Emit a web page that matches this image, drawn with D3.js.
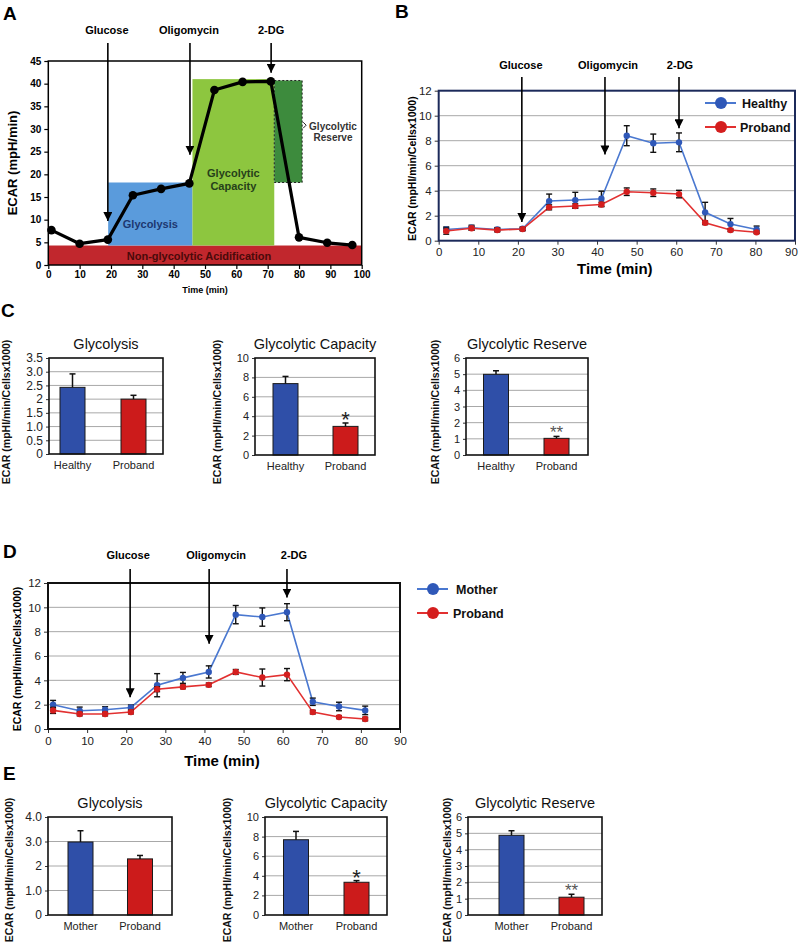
<!DOCTYPE html>
<html><head><meta charset="utf-8">
<script src="https://cdn.jsdelivr.net/npm/d3@7"></script>
<style>body{margin:0;background:#fff}</style>
</head><body><svg id="fig" width="800" height="951" xmlns="http://www.w3.org/2000/svg"></svg>
<script>
// ================= DATA =================
// Panel A (schematic)
const aTime = [1, 10, 19, 27, 36, 45, 53, 62, 71, 80, 89, 97];
const aEcar = [7.7, 4.7, 5.6, 15.4, 16.8, 18.0, 38.6, 40.4, 40.5, 6.1, 4.9, 4.4];
const aXTicks = [0, 10, 20, 30, 40, 50, 60, 70, 80, 90, 100];
const aYTicks = [0, 5, 10, 15, 20, 25, 30, 35, 40, 45];
const aRegionNames = ["Non-glycolytic Acidification", "Glycolysis", "Glycolytic Capacity", "Glycolytic Reserve"];
const aRegionX0 = [0, 19.1, 46, 72.1];
const aRegionX1 = [100, 46, 72.1, 81];
const aRegionY0 = [0, 4.3, 4.3, 18.2];
const aRegionY1 = [4.3, 18.2, 41, 40.7];
const drugNames = ["Glucose", "Oligomycin", "2-DG"];
const aDrugTimes = [19, 45.2, 71.1];
const aDrugTips = [9.7, 24.3, 42.4];

// Panel B
const bTime = [1.9, 8.3, 14.8, 21.2, 27.9, 34.5, 41.1, 47.5, 54.2, 60.7, 67.3, 73.7, 80.3];
const bHealthy = [0.9, 1.04, 0.9, 0.96, 3.17, 3.25, 3.36, 8.4, 7.8, 7.87, 2.27, 1.33, 0.9];
const bHealthyErr = [0.2, 0.2, 0.15, 0.15, 0.56, 0.62, 0.6, 0.8, 0.73, 0.75, 0.8, 0.45, 0.27];
const bProband = [0.77, 1.0, 0.85, 0.93, 2.67, 2.77, 2.9, 3.92, 3.84, 3.73, 1.44, 0.85, 0.67];
const bProbandErr = [0.25, 0.15, 0.15, 0.12, 0.2, 0.18, 0.18, 0.3, 0.3, 0.3, 0.15, 0.12, 0.1];
const bDrugTimes = [21.0, 42.0, 60.7];
const bDrugTips = [1.5, 6.9, 9.0];

// Panel D
const dTime = [1.3, 8.1, 14.6, 21.2, 27.9, 34.5, 41.1, 48.0, 54.8, 61.1, 67.7, 74.4, 81.1];
const dMother = [2.0, 1.5, 1.58, 1.77, 3.6, 4.2, 4.69, 9.4, 9.2, 9.6, 2.24, 1.85, 1.53];
const dMotherErr = [0.35, 0.3, 0.25, 0.2, 0.95, 0.45, 0.5, 0.75, 0.75, 0.7, 0.3, 0.35, 0.35];
const dProband = [1.53, 1.23, 1.23, 1.39, 3.27, 3.46, 3.63, 4.69, 4.23, 4.47, 1.39, 0.98, 0.82];
const dProbandErr = [0.25, 0.15, 0.15, 0.15, 0.2, 0.15, 0.15, 0.2, 0.7, 0.5, 0.15, 0.12, 0.15];
const dDrugTimes = [21.0, 41.2, 61.1];
const dDrugTips = [2.6, 7.0, 10.8];

const lineXTicks = [0, 10, 20, 30, 40, 50, 60, 70, 80, 90];
const lineYTicks = [0, 2, 4, 6, 8, 10, 12];

// Panels C and E (bar summaries)
const cCats = ["Healthy", "Proband"];
const eCats = ["Mother", "Proband"];
const barTitles = ["Glycolysis", "Glycolytic Capacity", "Glycolytic Reserve"];
const cGlycolysis = [2.43, 2.0],  cGlycolysisErr = [0.49, 0.14];
const cCapacity   = [7.36, 2.95], cCapacityErr   = [0.74, 0.35];
const cReserve    = [4.99, 1.03], cReserveErr    = [0.22, 0.12];
const eGlycolysis = [2.98, 2.29], eGlycolysisErr = [0.46, 0.14];
const eCapacity   = [7.68, 3.34], eCapacityErr   = [0.85, 0.17];
const eReserve    = [4.88, 1.09], eReserveErr    = [0.28, 0.18];
const sigMarks = ["", "*", "**"];
const cGlyTicks = [0, 0.5, 1, 1.5, 2, 2.5, 3, 3.5];
const cGlyTickLabels = ["0", "0.5", "1.0", "1.5", "2", "2.5", "3.0", "3.5"];
const eGlyTicks = [0, 1, 2, 3, 4];
const eGlyTickLabels = ["0", "1.0", "2", "3.0", "4.0"];
const capTicks = [0, 2, 4, 6, 8, 10];
const resTicks = [0, 1, 2, 3, 4, 5, 6];

// ================= DRAWING =================
const FONT = "'Liberation Sans', Arial, Helvetica, sans-serif";
const svg = d3.select("#fig").attr("font-family", FONT);

const defs = svg.append("defs");
defs.append("marker").attr("id", "arrowhead")
  .attr("viewBox", "0 0 10 10").attr("refX", 10).attr("refY", 5)
  .attr("markerWidth", 9).attr("markerHeight", 9).attr("markerUnits", "userSpaceOnUse")
  .attr("orient", "auto")
  .append("path").attr("d", "M0,0 L10,5 L0,10 Z").attr("fill", "#000");

function panelLetter(t, x, y) {
  svg.append("text").attr("x", x).attr("y", y).text(t)
    .attr("font-size", 19).attr("font-weight", "bold").attr("fill", "#000");
}

function drugArrows(g, x, y, times, tips, topY, textY, dx) {
  times.forEach((t, i) => {
    g.append("line").attr("x1", x(t)).attr("x2", x(t)).attr("y1", topY).attr("y2", y(tips[i]))
      .attr("stroke", "#000").attr("stroke-width", 1.6).attr("marker-end", "url(#arrowhead)");
    g.append("text").attr("x", x(t) + (dx ? dx[i] : 0)).attr("y", textY).attr("text-anchor", "middle")
      .attr("font-size", 11).attr("font-weight", "bold").text(drugNames[i]);
  });
}

// ---------- Panel A ----------
(function () {
  const L = 48.3, R = 361.7, T = 61, B = 265;
  const x = d3.scaleLinear([0, 100], [L, R]);
  const y = d3.scaleLinear([0, 45], [B, T]);
  const g = svg.append("g");
  const fills = ["#c1272d", "#5a9bdc", "#8dc63f", "#3d8b3d"];
  aRegionNames.forEach((n, i) => {
    g.append("rect").attr("x", x(aRegionX0[i])).attr("y", y(aRegionY1[i]))
      .attr("width", x(aRegionX1[i]) - x(aRegionX0[i])).attr("height", y(aRegionY0[i]) - y(aRegionY1[i]))
      .attr("fill", fills[i])
      .attr("stroke", i === 3 ? "#222" : "none").attr("stroke-dasharray", i === 3 ? "2,2" : null)
      .attr("stroke-width", 1);
  });
  const lab = (txt, xv, yv, col, fs) => g.append("text").attr("x", xv).attr("y", yv)
    .attr("text-anchor", "middle").attr("font-size", fs).attr("font-weight", "bold").attr("fill", col).text(txt);
  lab("Non-glycolytic Acidification", (x(0) + x(100)) / 2 - 6, y(1.0), "#4a0a0a", 11);
  lab("Glycolysis", (x(aRegionX0[1]) + x(aRegionX1[1])) / 2, y(8.1), "#1d3770", 11);
  lab("Glycolytic", (x(aRegionX0[2]) + x(aRegionX1[2])) / 2, y(19.5), "#26401a", 11);
  lab("Capacity", (x(aRegionX0[2]) + x(aRegionX1[2])) / 2, y(16.5), "#26401a", 11);
  lab("Glycolytic", 333, 130, "#333", 10);
  lab("Reserve", 333, 141, "#333", 10);
  g.append("path").attr("d", `M${x(81) + 1},${y(31.5)} l3,3 l-3,3`).attr("fill", "none").attr("stroke", "#222").attr("stroke-width", 1);

  g.append("rect").attr("x", L).attr("y", T).attr("width", R - L).attr("height", B - T)
    .attr("fill", "none").attr("stroke", "#000").attr("stroke-width", 1.5);

  const pts = aTime.map((t, i) => [t, aEcar[i]]);
  g.append("path").datum(pts).attr("d", d3.line().x(d => x(d[0])).y(d => y(d[1])))
    .attr("fill", "none").attr("stroke", "#000").attr("stroke-width", 3.2).attr("stroke-linejoin", "round");
  g.selectAll("circle.a").data(pts).join("circle").attr("cx", d => x(d[0])).attr("cy", d => y(d[1]))
    .attr("r", 4.3).attr("fill", "#000");

  const ax = g.append("g").attr("transform", `translate(0,${B})`)
    .call(d3.axisBottom(x).tickValues(aXTicks).tickSize(4).tickSizeOuter(0));
  const ay = g.append("g").attr("transform", `translate(${L},0)`)
    .call(d3.axisLeft(y).tickValues(aYTicks).tickSize(4).tickSizeOuter(0));
  [ax, ay].forEach(a => {
    a.select(".domain").remove();
    a.selectAll("text").attr("font-size", 10).attr("font-weight", "bold").attr("font-family", FONT).attr("fill", "#000");
    a.selectAll("line").attr("stroke", "#000").attr("stroke-width", 1.2);
  });
  ax.selectAll("text").attr("dy", "0.6em");
  g.append("text").attr("x", (L + R) / 2).attr("y", 293).attr("text-anchor", "middle")
    .attr("font-size", 9).attr("font-weight", "bold").text("Time (min)");
  g.append("text").attr("transform", `translate(17,${(T + B) / 2}) rotate(-90)`).attr("text-anchor", "middle")
    .attr("font-size", 13).attr("font-weight", "bold").text("ECAR (mpH/min)");

  drugArrows(g, x, y, aDrugTimes, aDrugTips, 43, 34, [-1, -1, 0]);
  panelLetter("A", 3, 20);
})();

// ---------- line chart (B, D) ----------
function lineChart(o) {
  const x = d3.scaleLinear([0, 90], [o.L, o.R]);
  const y = d3.scaleLinear([0, 12], [o.B, o.T]);
  const g = svg.append("g");
  g.selectAll("line.grid").data(lineYTicks.filter(v => v > 0 && v < 12)).join("line")
    .attr("x1", o.L).attr("x2", o.R).attr("y1", d => y(d)).attr("y2", d => y(d))
    .attr("stroke", "#a8a8a8").attr("stroke-width", 1);
  const ax = g.append("g").attr("transform", `translate(0,${o.B})`)
    .call(d3.axisBottom(x).tickValues(lineXTicks).tickSize(4).tickSizeOuter(0));
  const ay = g.append("g").attr("transform", `translate(${o.L},0)`)
    .call(d3.axisLeft(y).tickValues(lineYTicks).tickSize(4).tickSizeOuter(0));
  [ax, ay].forEach(a => {
    a.select(".domain").remove();
    a.selectAll("text").attr("font-size", 11.5).attr("font-family", FONT).attr("fill", "#222");
    a.selectAll("line").attr("stroke", "#333");
  });
  ax.selectAll("text").attr("dy", "0.75em");
  if (o.lastTickDx) ax.selectAll(".tick").filter(d => d === 90).select("text").attr("dx", o.lastTickDx);
  o.series.forEach(s => {
    const pts = o.time.map((t, i) => ({ t, v: s.vals[i], e: s.err[i] }));
    g.append("path").datum(pts).attr("d", d3.line().x(d => x(d.t)).y(d => y(d.v)))
      .attr("fill", "none").attr("stroke", s.line).attr("stroke-width", 1.6);
    const eb = g.append("g");
    pts.forEach(d => {
      const x0 = x(d.t), y1 = y(d.v + d.e), y2 = y(Math.max(0, d.v - d.e));
      eb.append("line").attr("x1", x0).attr("x2", x0).attr("y1", y1).attr("y2", y2).attr("stroke", "#111").attr("stroke-width", 1.4);
      [y1, y2].forEach(yy => eb.append("line").attr("x1", x0 - 3).attr("x2", x0 + 3).attr("y1", yy).attr("y2", yy).attr("stroke", "#111").attr("stroke-width", 1.4));
    });
    g.selectAll(null).data(pts).join("circle").attr("cx", d => x(d.t)).attr("cy", d => y(d.v))
      .attr("r", 3.2).attr("fill", s.marker);
  });
  g.append("rect").attr("x", o.L).attr("y", o.T).attr("width", o.R - o.L).attr("height", o.B - o.T)
    .attr("fill", "none").attr("stroke", o.frame).attr("stroke-width", 2);
  g.append("text").attr("x", x(45) - 2).attr("y", o.titleY).attr("text-anchor", "middle")
    .attr("font-size", 15).attr("font-weight", "bold").text("Time (min)");
  g.append("text").attr("transform", `translate(${o.yLabX},${(o.T + o.B) / 2 + 3}) rotate(-90)`).attr("text-anchor", "middle")
    .attr("font-size", 10.5).attr("font-weight", "bold").text("ECAR (mpHI/min/Cellsx1000)");
  drugArrows(g, x, y, o.drugTimes, o.drugTips, o.arrowTop, o.textY, o.textDx);
  o.series.forEach((s, i) => {
    const ly = o.legY[i];
    g.append("line").attr("x1", o.legX0).attr("x2", o.legX0 + 31).attr("y1", ly).attr("y2", ly)
      .attr("stroke", s.line).attr("stroke-width", 2);
    g.append("circle").attr("cx", o.legX0 + 16).attr("cy", ly).attr("r", 6).attr("fill", s.marker);
    g.append("text").attr("x", o.legTextX[i]).attr("y", ly).attr("dy", "0.36em")
      .attr("font-size", 12.5).attr("font-weight", "bold").attr("fill", "#111").text(s.name);
  });
}

lineChart({
  L: 438.7, R: 795, T: 90.7, B: 240.7, frame: "#1c2a5a", yLabX: 416, titleY: 274, lastTickDx: -4,
  time: bTime,
  series: [
    { name: "Healthy", vals: bHealthy, err: bHealthyErr, line: "#4a78d0", marker: "#2f58b8" },
    { name: "Proband", vals: bProband, err: bProbandErr, line: "#e23030", marker: "#d41e1e" }
  ],
  drugTimes: bDrugTimes, drugTips: bDrugTips, arrowTop: 77, textY: 69, textDx: [-1, 3, 1],
  legX0: 705, legY: [103, 127], legTextX: [742, 740]
});
panelLetter("B", 395, 18);

lineChart({
  L: 48, R: 400, T: 583, B: 729, frame: "#111", yLabX: 21, titleY: 766,
  time: dTime,
  series: [
    { name: "Mother", vals: dMother, err: dMotherErr, line: "#4a78d0", marker: "#2f58b8" },
    { name: "Proband", vals: dProband, err: dProbandErr, line: "#e23030", marker: "#d41e1e" }
  ],
  drugTimes: dDrugTimes, drugTips: dDrugTips, arrowTop: 569, textY: 559, textDx: [-2, 7, 7],
  legX0: 417, legY: [589, 613], legTextX: [456, 453]
});
panelLetter("D", 3, 558);

// ---------- bar charts (C, E) ----------
function barChart(o) {
  const x = d3.scalePoint().domain(o.cats).range([o.L + o.padL, o.R - o.padR]);
  const y = d3.scaleLinear([0, o.max], [o.B, o.T]);
  const g = svg.append("g");
  g.selectAll(null).data(o.ticks.filter(v => v > 0 && v < o.max)).join("line")
    .attr("x1", o.L).attr("x2", o.R).attr("y1", d => y(d)).attr("y2", d => y(d))
    .attr("stroke", "#a8a8a8").attr("stroke-width", 1);
  const ay = g.append("g").attr("transform", `translate(${o.L},0)`)
    .call(d3.axisLeft(y).tickValues(o.ticks).tickSize(3).tickSizeOuter(0)
      .tickFormat((d, i) => o.tickLabels ? o.tickLabels[i] : d));
  ay.select(".domain").remove();
  ay.selectAll("text").attr("font-size", o.tickFs || 11).attr("font-family", FONT).attr("fill", "#222");
  ay.selectAll("line").attr("stroke", "#333");
  const colors = ["#2f4fa8", "#cc1b1b"];
  const bw = 25;
  o.cats.forEach((c, i) => {
    const cx = x(c);
    g.append("rect").attr("x", cx - bw / 2).attr("y", y(o.vals[i])).attr("width", bw)
      .attr("height", o.B - y(o.vals[i])).attr("fill", colors[i]).attr("stroke", "#1a1a1a").attr("stroke-width", 1);
    const yt = y(o.vals[i] + o.err[i]);
    g.append("line").attr("x1", cx).attr("x2", cx).attr("y1", y(o.vals[i])).attr("y2", yt).attr("stroke", "#111").attr("stroke-width", 1.5);
    g.append("line").attr("x1", cx - 3).attr("x2", cx + 3).attr("y1", yt).attr("y2", yt).attr("stroke", "#111").attr("stroke-width", 1.5);
    g.append("text").attr("x", cx).attr("y", o.B + 15).attr("text-anchor", "middle")
      .attr("font-size", 11).attr("fill", "#222").text(c);
    if (i === 1 && o.sig) {
      const two = o.sig.length > 1;
      g.append("text").attr("x", cx).attr("y", yt + (two ? 2 : 4)).attr("text-anchor", "middle")
        .attr("font-size", two ? 17 : 22).attr("fill", two ? "#555" : "#222").text(o.sig);
    }
  });
  g.append("rect").attr("x", o.L).attr("y", o.T).attr("width", o.R - o.L).attr("height", o.B - o.T)
    .attr("fill", "none").attr("stroke", "#111").attr("stroke-width", 1.6);
  g.append("text").attr("x", (o.L + o.R) / 2).attr("y", o.T - 9).attr("text-anchor", "middle")
    .attr("font-size", 14.5).attr("fill", "#111").text(o.title);
  g.append("text").attr("transform", `translate(${o.yLabX},${o.yLabY}) rotate(-90)`).attr("text-anchor", "middle")
    .attr("font-size", 10.5).attr("font-weight", "bold").attr("fill", "#111").text("ECAR (mpHI/min/Cellsx1000)");
}

// Panel C
barChart({ L: 49, R: 163, T: 358, B: 454, padL: 23.5, padR: 29.5, cats: cCats, vals: cGlycolysis, err: cGlycolysisErr,
  max: 3.5, ticks: cGlyTicks, tickLabels: cGlyTickLabels, title: barTitles[0], sig: sigMarks[0], yLabX: 10, yLabY: 412, tickFs: 12 });
barChart({ L: 255, R: 375, T: 358, B: 455, padL: 30.5, padR: 29.5, cats: cCats, vals: cCapacity, err: cCapacityErr,
  max: 10, ticks: capTicks, title: barTitles[1], sig: sigMarks[1], yLabX: 221, yLabY: 412 });
barChart({ L: 466, R: 588, T: 358, B: 455, padL: 30, padR: 31.5, cats: cCats, vals: cReserve, err: cReserveErr,
  max: 6, ticks: resTicks, title: barTitles[2], sig: sigMarks[2], yLabX: 439, yLabY: 412 });
panelLetter("C", 1, 317);

// Panel E
barChart({ L: 48, R: 172, T: 817, B: 915, padL: 32.5, padR: 32, cats: eCats, vals: eGlycolysis, err: eGlycolysisErr,
  max: 4, ticks: eGlyTicks, tickLabels: eGlyTickLabels, title: barTitles[0], sig: sigMarks[0], yLabX: 13, yLabY: 870, tickFs: 12 });
barChart({ L: 265, R: 387, T: 817, B: 915, padL: 31, padR: 30.5, cats: eCats, vals: eCapacity, err: eCapacityErr,
  max: 10, ticks: capTicks, title: barTitles[1], sig: sigMarks[1], yLabX: 231, yLabY: 870 });
barChart({ L: 468, R: 602, T: 817, B: 915, padL: 43.5, padR: 30.5, cats: eCats, vals: eReserve, err: eReserveErr,
  max: 6, ticks: resTicks, title: barTitles[2], sig: sigMarks[2], yLabX: 451, yLabY: 870 });
panelLetter("E", 3, 780);
</script>
</body></html>
